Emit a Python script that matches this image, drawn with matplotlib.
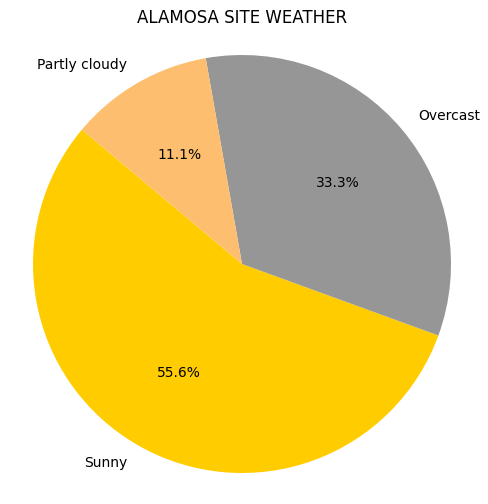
import matplotlib
matplotlib.use("Agg")
import matplotlib.pyplot as plt

labels = ["Sunny", "Overcast", "Partly cloudy"]
counts = [5, 3, 1]
colors = ["#FFCC00", "#969696", "#FDBF6F"]

W, H = 489, 504
fig = plt.figure(figsize=(W / 100, H / 100), dpi=100)
cx, cy, r = 242, 504 - 264, 209
lim = 1.2
size = 2 * lim * r
ax = fig.add_axes([(cx - size / 2) / W, (cy - size / 2) / H, size / W, size / H])
ax.pie(counts, labels=labels, colors=colors, autopct="%1.1f%%", startangle=140)
ax.set_xlim(-lim, lim)
ax.set_ylim(-lim, lim)
ax.set_aspect("equal")
ax.axis("off")
fig.text(242 / W, 1 - 18 / H, "ALAMOSA SITE WEATHER", ha="center", va="center", fontsize=12)
fig.savefig("out.png", dpi=100)
